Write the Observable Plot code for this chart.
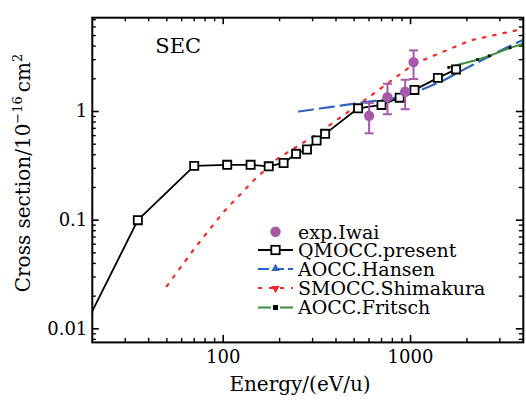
<!DOCTYPE html>
<html><head><meta charset="utf-8">
<script src="https://cdn.jsdelivr.net/npm/d3@7"></script>
<script src="https://cdn.jsdelivr.net/npm/@observablehq/plot@0.6"></script>
<style>body{margin:0;background:#fff} svg{display:block}</style>
</head><body><div id="chart"></div>
<script>
// ---- data ----
const qmoccE = [17.5, 35, 70, 105, 140, 175, 210, 245, 280, 315, 350, 525, 700, 875, 1050, 1400, 1750];
const qmoccS = [0.0092, 0.100, 0.316, 0.323, 0.323, 0.313, 0.336, 0.408, 0.447, 0.541, 0.623, 1.07, 1.15, 1.34, 1.58, 2.04, 2.44];
const iwaiE = [601, 753, 936, 1038];
const iwaiS = [0.913, 1.355, 1.52, 2.85];
const iwaiLo = [0.63, 0.944, 1.05, 1.99];
const iwaiHi = [1.2, 1.8, 1.96, 3.65];
const hansenE = [254, 531, 785, 1000, 1233, 1500, 1887, 2500, 3290, 4100];
const hansenS = [1.0, 1.2, 1.31, 1.45, 1.67, 1.93, 2.39, 3.07, 3.91, 4.65];
const shimaE = [50, 70.5, 100, 146, 194, 318, 565, 1045, 2090, 4030];
const shimaS = [0.0247, 0.0554, 0.118, 0.234, 0.366, 0.623, 1.26, 2.75, 4.51, 5.78];
const fritschE = [1600, 2275, 2630, 3400, 4000];
const fritschS = [2.55, 3.0, 3.25, 3.85, 4.2];
const seriesNames = ["exp.Iwai", "QMOCC.present", "AOCC.Hansen", "SMOCC.Shimakura", "AOCC.Fritsch"];
const xMajor = [100, 1000];
const xMinor = [30, 40, 50, 60, 70, 80, 90, 200, 300, 400, 500, 600, 700, 800, 900, 2000, 3000, 4000];
const yMajor = [0.01, 0.1, 1];
const yMinor = [0.008, 0.009, 0.02, 0.03, 0.04, 0.05, 0.06, 0.07, 0.08, 0.09, 0.2, 0.3, 0.4, 0.5, 0.6, 0.7, 0.8, 0.9, 2, 3, 4, 5, 6, 7];
const panelLabel = "SEC";
const xTitle = "Energy/(eV/u)";

// ---- build tables ----
const zip = (xs, ys) => xs.map((x, i) => ({x, y: ys[i]}));
const qmocc = zip(qmoccE, qmoccS);
const iwai = iwaiE.map((x, i) => ({x, y: iwaiS[i], lo: iwaiLo[i], hi: iwaiHi[i]}));
const hansen = zip(hansenE, hansenS);
const shima = zip(shimaE, shimaS);
const fritsch = zip(fritschE, fritschS);

const W = 526, H = 401, mL = 91.8, mR = 3.2, mT = 17.2, mB = 59.1;
const plotH = H - mT - mB;
const cPurple = "#a55aa9", cBlue = "#2e64bd", cRed = "#ef2b2b", cGreen = "#3b8f3b";
const capSym = {draw(ctx) { ctx.moveTo(-4.5, 0); ctx.lineTo(4.5, 0); }};
const majL = 7, minL = 4;

const chart = Plot.plot({
  width: W, height: H,
  marginLeft: mL, marginRight: mR, marginTop: mT, marginBottom: mB,
  style: {fontFamily: "DejaVu Serif", background: "#fff", color: "#000"},
  x: {type: "log", domain: [20, 4000]},
  y: {type: "log", domain: [0.0075, 7.3]},
  marks: [
    // ticks (inward, mirrored)
    Plot.tickX(xMajor, {x: d => d, insetTop: plotH - majL, stroke: "#000", strokeWidth: 1.6}),
    Plot.tickX(xMajor, {x: d => d, insetBottom: plotH - majL, stroke: "#000", strokeWidth: 1.6}),
    Plot.tickX(xMinor, {x: d => d, insetTop: plotH - minL, stroke: "#000", strokeWidth: 1.4}),
    Plot.tickX(xMinor, {x: d => d, insetBottom: plotH - minL, stroke: "#000", strokeWidth: 1.4}),
    Plot.tickY(yMajor, {y: d => d, insetRight: (W - mL - mR) - majL, stroke: "#000", strokeWidth: 1.6}),
    Plot.tickY(yMajor, {y: d => d, insetLeft: (W - mL - mR) - majL, stroke: "#000", strokeWidth: 1.6}),
    Plot.tickY(yMinor, {y: d => d, insetRight: (W - mL - mR) - minL, stroke: "#000", strokeWidth: 1.4}),
    Plot.tickY(yMinor, {y: d => d, insetLeft: (W - mL - mR) - minL, stroke: "#000", strokeWidth: 1.4}),
    Plot.axisX({ticks: xMajor, tickSize: 0, tickPadding: 8, tickFormat: d => String(d), fontSize: 18, label: null}),
    Plot.axisY({ticks: yMajor, tickSize: 0, tickPadding: 5, tickFormat: d => String(d), fontSize: 18, label: null}),
    // curves
    Plot.line(shima, {x: "x", y: "y", stroke: cRed, strokeWidth: 2.2, strokeDasharray: "2.5,8", clip: true}),
    Plot.line(hansen, {x: "x", y: "y", stroke: cBlue, strokeWidth: 2.2, strokeDasharray: "14,7", clip: true}),
    Plot.line(fritsch, {x: "x", y: "y", stroke: cGreen, strokeWidth: 2, clip: true}),
    Plot.dot(fritsch, {x: "x", y: "y", symbol: "square", r: 1.6, fill: "#000", clip: true}),
    Plot.line(qmocc, {x: "x", y: "y", stroke: "#000", strokeWidth: 1.8, clip: true}),
    Plot.dot(qmocc, {x: "x", y: "y", symbol: "square", r: 4.6, fill: "#fff", stroke: "#000", strokeWidth: 1.8, clip: true}),
    // experiment with error bars
    Plot.ruleX(iwai, {x: "x", y1: "lo", y2: "hi", stroke: cPurple, strokeWidth: 2}),
    Plot.dot(iwai, {x: "x", y: "lo", symbol: capSym, stroke: cPurple, strokeWidth: 2}),
    Plot.dot(iwai, {x: "x", y: "hi", symbol: capSym, stroke: cPurple, strokeWidth: 2}),
    Plot.dot(iwai, {x: "x", y: "y", r: 5.2, fill: cPurple}),
    Plot.text([panelLabel], {frameAnchor: "top-left", dx: 63, dy: 29, textAnchor: "start", lineAnchor: "middle", fontSize: 21, fill: "#000"}),
    Plot.frame({stroke: "#000", strokeWidth: 2})
  ]
});
document.getElementById("chart").appendChild(chart);

// ---- axis titles & legend ----
const svg = d3.select(chart);
svg.append("text").attr("x", 300).attr("y", 391).attr("text-anchor", "middle")
  .attr("font-size", 20).attr("fill", "#000").text(xTitle);
const yl = svg.append("text").attr("transform", "translate(30,173) rotate(-90)")
  .attr("text-anchor", "middle").attr("font-size", 20).attr("fill", "#000");
yl.append("tspan").text("Cross section/10");
yl.append("tspan").attr("dy", -8).attr("font-size", 13).text("\u221216");
yl.append("tspan").attr("dy", 8).text("\u2009cm");
yl.append("tspan").attr("dy", -8).attr("font-size", 13).text("2");

const rowsY = [231.7, 250, 269, 288, 307.5];
const lx1 = 258, lx2 = 293, lxm = 275.5, tx = 298;
const lg = svg.append("g").attr("font-size", 19).attr("fill", "#000").attr("text-anchor", "start");
rowsY.forEach((y, i) => {
  lg.append("text").attr("x", tx).attr("y", y).attr("dy", "0.36em").attr("text-anchor", "start").text(seriesNames[i]);
});
// exp.Iwai
lg.append("circle").attr("cx", lxm).attr("cy", rowsY[0]).attr("r", 5.2).attr("fill", cPurple);
// QMOCC
lg.append("line").attr("x1", lx1).attr("x2", lx2).attr("y1", rowsY[1]).attr("y2", rowsY[1]).attr("stroke", "#000").attr("stroke-width", 1.8);
lg.append("rect").attr("x", lxm - 4.2).attr("y", rowsY[1] - 4.2).attr("width", 8.4).attr("height", 8.4).attr("fill", "#fff").attr("stroke", "#000").attr("stroke-width", 1.8);
// Hansen
lg.append("line").attr("x1", lx1).attr("x2", lx2).attr("y1", rowsY[2]).attr("y2", rowsY[2]).attr("stroke", cBlue).attr("stroke-width", 2.2).attr("stroke-dasharray", "11,4");
lg.append("path").attr("d", d3.symbol(d3.symbolTriangle, 30)()).attr("transform", `translate(${lxm},${rowsY[2] - 0.5})`).attr("fill", cBlue);
// Shimakura
lg.append("line").attr("x1", lx1).attr("x2", lx2).attr("y1", rowsY[3]).attr("y2", rowsY[3]).attr("stroke", cRed).attr("stroke-width", 2.2).attr("stroke-dasharray", "4,7");
lg.append("path").attr("d", d3.symbol(d3.symbolTriangle, 30)()).attr("transform", `translate(${lxm},${rowsY[3] + 0.5}) rotate(180)`).attr("fill", cRed);
// Fritsch
lg.append("line").attr("x1", lx1).attr("x2", lx2).attr("y1", rowsY[4]).attr("y2", rowsY[4]).attr("stroke", cGreen).attr("stroke-width", 2.2).attr("stroke-dasharray", "13,9");
lg.append("rect").attr("x", lxm - 2.5).attr("y", rowsY[4] - 2.5).attr("width", 5).attr("height", 5).attr("fill", "#000");
</script>
</body></html>
